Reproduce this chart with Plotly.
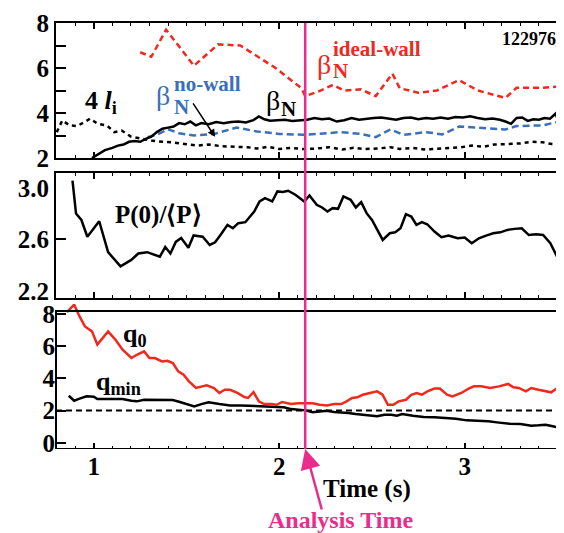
import plotly.graph_objects as go

# ---------------- data ----------------
# top panel: beta_N (solid black)
betaN_t = [0.99, 1.03, 1.06, 1.10, 1.13, 1.16, 1.19, 1.22, 1.25, 1.28, 1.31, 1.34, 1.37, 1.40, 1.43,
           1.46, 1.49, 1.52, 1.55, 1.58, 1.62, 1.66, 1.70, 1.74, 1.78, 1.82, 1.86, 1.89, 1.92, 1.95,
           1.99, 2.03, 2.07, 2.11, 2.15, 2.19, 2.23, 2.27, 2.31, 2.35, 2.39, 2.43, 2.47, 2.51, 2.55,
           2.59, 2.63, 2.67, 2.71, 2.75, 2.79, 2.83, 2.87, 2.91, 2.95, 2.99, 3.03, 3.07, 3.11, 3.15,
           3.19, 3.22, 3.25, 3.28, 3.31, 3.34, 3.37, 3.40, 3.43, 3.46, 3.49, 3.51, 3.53, 3.55, 3.57]
betaN_v = [2.0, 2.2, 2.35, 2.45, 2.55, 2.6, 2.72, 2.75, 2.72, 2.85, 2.95, 3.15, 3.3, 3.35, 3.4,
           3.55, 3.5, 3.62, 3.45, 3.55, 3.5, 3.6, 3.55, 3.6, 3.62, 3.58, 3.68, 3.85, 3.72, 3.66,
           3.68, 3.7, 3.65, 3.68, 3.7, 3.78, 3.72, 3.75, 3.62, 3.68, 3.78, 3.7, 3.75, 3.78, 3.8,
           3.75, 3.7, 3.78, 3.8, 3.72, 3.78, 3.75, 3.8, 3.75, 3.82, 3.8, 3.85, 3.78, 3.72, 3.75,
           3.7, 3.62, 3.52, 3.78, 3.8, 3.65, 3.72, 3.7, 3.78, 3.75, 3.97, 3.55, 3.35, 3.28, 3.3]

# beta_N no-wall limit (blue dashed)
nowall_t = [1.29, 1.35, 1.40, 1.46, 1.54, 1.65, 1.77, 1.88, 2.0, 2.13, 2.21, 2.33, 2.44, 2.52,
            2.60, 2.67, 2.79, 2.88, 2.97, 3.10, 3.22, 3.28, 3.42, 3.50]
nowall_v = [2.93, 3.07, 3.28, 3.1, 3.0, 3.07, 3.35, 3.18, 3.07, 3.03, 3.07, 3.15, 3.07, 2.93,
            3.27, 3.03, 3.15, 3.05, 3.40, 3.34, 3.27, 3.42, 3.45, 3.6]

# beta_N ideal-wall limit (red dashed)
ideal_t = [1.25, 1.31, 1.39, 1.54, 1.67, 1.79, 1.98, 2.12, 2.14, 2.21, 2.29, 2.35, 2.44, 2.52,
           2.61, 2.65, 2.75, 2.85, 2.97, 3.07, 3.22, 3.28, 3.42, 3.52]
ideal_v = [6.7, 6.5, 7.7, 6.1, 7.05, 7.0, 6.0, 5.1, 4.75, 4.95, 5.25, 5.0, 5.05, 4.75,
           5.75, 5.1, 4.9, 5.0, 5.46, 5.0, 4.67, 5.12, 5.12, 5.19]

# 4 l_i (black dotted)
li_t = [0.80, 0.83, 0.87, 0.91, 0.95, 0.98, 1.02, 1.07, 1.11, 1.15, 1.20, 1.26, 1.31, 1.37, 1.42,
        1.49, 1.56, 1.62, 1.69, 1.76, 1.83, 1.88, 1.94, 2.0, 2.06, 2.13, 2.2, 2.27, 2.34, 2.4,
        2.46, 2.53, 2.6, 2.65, 2.72, 2.78, 2.85, 2.92, 2.98, 3.04, 3.1, 3.16, 3.23, 3.3, 3.36,
        3.42, 3.47, 3.5, 3.55]
li_v = [3.15, 3.67, 3.45, 3.42, 3.6, 3.75, 3.52, 3.45, 3.15, 3.22, 2.95, 2.85, 2.78, 2.72, 2.7,
        2.62, 2.55, 2.6, 2.52, 2.5, 2.48, 2.42, 2.5, 2.4, 2.45, 2.4, 2.42, 2.48, 2.38, 2.45,
        2.4, 2.42, 2.48, 2.4, 2.45, 2.38, 2.4, 2.45, 2.48, 2.55, 2.5, 2.6, 2.62, 2.65, 2.72,
        2.7, 2.62, 2.6, 2.68]

# middle panel: P(0)/<P>
peak_t = [0.885, 0.904, 0.933, 0.965, 1.029, 1.077, 1.144, 1.202, 1.24, 1.288, 1.356, 1.385,
          1.413, 1.442, 1.471, 1.51, 1.538, 1.587, 1.625, 1.654, 1.683, 1.721, 1.75, 1.779,
          1.817, 1.865, 1.894, 1.923, 1.962, 1.99, 2.019, 2.048, 2.087, 2.135, 2.163, 2.202,
          2.231, 2.26, 2.288, 2.317, 2.346, 2.385, 2.413, 2.442, 2.471, 2.5, 2.558, 2.596,
          2.625, 2.654, 2.683, 2.712, 2.74, 2.769, 2.798, 2.837, 2.875, 2.913, 2.962, 3.0,
          3.038, 3.077, 3.115, 3.154, 3.192, 3.231, 3.269, 3.308, 3.346, 3.385, 3.423, 3.462, 3.5]
peak_v = [3.055, 2.80, 2.75, 2.62, 2.74, 2.50, 2.39, 2.44, 2.49, 2.50, 2.465, 2.54,
          2.49, 2.58, 2.61, 2.535, 2.63, 2.62, 2.556, 2.577, 2.633, 2.712, 2.686, 2.725,
          2.733, 2.816, 2.894, 2.92, 2.894, 2.972, 2.967, 2.977, 2.946, 2.894, 2.941, 2.868,
          2.847, 2.816, 2.842, 2.837, 2.933, 2.907, 2.847, 2.889, 2.803, 2.751, 2.595, 2.647,
          2.654, 2.686, 2.795, 2.777, 2.712, 2.733, 2.717, 2.66, 2.616, 2.629, 2.608, 2.613,
          2.569, 2.608, 2.629, 2.647, 2.654, 2.673, 2.681, 2.686, 2.633, 2.639, 2.633, 2.569, 2.46]

# bottom panel: q0 (red) and qmin (black)
q0_t = [0.855, 0.894, 0.923, 0.952, 0.990, 1.019, 1.077, 1.116, 1.155, 1.203, 1.232, 1.271,
        1.300, 1.329, 1.368, 1.397, 1.426, 1.455, 1.484, 1.513, 1.551, 1.580, 1.609, 1.648,
        1.677, 1.706, 1.735, 1.774, 1.812, 1.832, 1.861, 1.890, 1.919, 1.957, 1.986, 2.015,
        2.064, 2.102, 2.141, 2.180, 2.218, 2.257, 2.296, 2.334, 2.363, 2.393, 2.421, 2.450,
        2.489, 2.528, 2.557, 2.586, 2.615, 2.644, 2.683, 2.712, 2.741, 2.769, 2.799, 2.837,
        2.866, 2.905, 2.934, 2.982, 3.021, 3.050, 3.089, 3.137, 3.185, 3.214, 3.234, 3.263,
        3.292, 3.330, 3.359, 3.398, 3.437, 3.466, 3.495, 3.524]
q0_v = [8.11, 8.57, 7.84, 7.22, 6.91, 6.09, 6.91, 6.40, 5.77, 5.26, 5.46, 5.67,
        5.26, 5.26, 5.05, 5.09, 4.95, 4.43, 4.22, 3.81, 3.40, 3.50, 3.56, 3.40,
        3.09, 3.29, 3.29, 3.09, 2.84, 2.78, 3.15, 2.57, 2.40, 2.40, 2.36, 2.53,
        2.40, 2.45, 2.47, 2.45, 2.36, 2.32, 2.40, 2.40, 2.57, 2.78, 2.82, 2.98,
        3.09, 3.19, 2.98, 2.36, 2.36, 2.57, 2.67, 2.98, 3.09, 2.98, 3.19, 3.36,
        3.36, 2.98, 2.88, 3.09, 3.36, 3.50, 3.50, 3.40, 3.50, 3.60, 3.65, 3.44,
        3.40, 3.19, 3.40, 3.29, 3.19, 3.13, 3.36, 3.23]

qmin_t = [0.865, 0.894, 0.923, 0.961, 1.0, 1.019, 1.097, 1.155, 1.203, 1.232, 1.271, 1.348,
          1.426, 1.464, 1.503, 1.542, 1.580, 1.619, 1.677, 1.735, 1.793, 1.851, 1.909, 1.967,
          2.025, 2.064, 2.102, 2.141, 2.180, 2.218, 2.257, 2.296, 2.334, 2.373, 2.412, 2.450,
          2.489, 2.528, 2.567, 2.605, 2.634, 2.663, 2.721, 2.779, 2.837, 2.895, 2.953, 3.011,
          3.069, 3.127, 3.185, 3.243, 3.301, 3.359, 3.398, 3.437, 3.475, 3.514]
qmin_v = [2.92, 2.61, 2.74, 2.88, 2.86, 2.71, 2.71, 2.71, 2.61, 2.57, 2.67, 2.67,
          2.65, 2.53, 2.40, 2.26, 2.40, 2.51, 2.40, 2.32, 2.32, 2.28, 2.26, 2.22,
          2.20, 2.09, 2.05, 2.01, 1.89, 1.95, 1.99, 1.91, 1.89, 1.85, 1.78, 1.74,
          1.70, 1.64, 1.74, 1.74, 1.68, 1.78, 1.68, 1.60, 1.58, 1.54, 1.49, 1.39,
          1.37, 1.33, 1.25, 1.18, 1.16, 1.06, 1.08, 1.12, 1.02, 0.92]

q_ref = 2.0
analysis_time = 2.14
x_ticks = [1, 2, 3]
top_ticks = [2, 4, 6, 8]
mid_ticks = [2.2, 2.6, 3.0]
mid_ticktext = ["2.2", "2.6", "3.0"]
bot_ticks = [0, 2, 4, 6, 8]

# ---------------- styling ----------------
FONT = "Liberation Serif"
RED = "#F0281E"
BLUE = "#3A70B8"
MAG = "#EC2C8C"
W, H = 564, 533
ML, MR, MT, MB = 48, 0, 15, 92
PW, PH = W - ML - MR, H - MT - MB


def P(xpx, ypx):
    return (xpx - ML) / PW, (H - MB - ypx) / PH


fig = go.Figure()
fig.add_trace(go.Scatter(x=ideal_t, y=ideal_v, mode="lines", line=dict(color=RED, width=2.5, dash="6px,4px"),
                         xaxis="x", yaxis="y"))
fig.add_trace(go.Scatter(x=li_t, y=li_v, mode="lines", line=dict(color="black", width=2.5, dash="4px,4px"),
                         xaxis="x", yaxis="y"))
fig.add_trace(go.Scatter(x=nowall_t, y=nowall_v, mode="lines", line=dict(color=BLUE, width=2.5, dash="7px,4px"),
                         xaxis="x", yaxis="y"))
fig.add_trace(go.Scatter(x=betaN_t, y=betaN_v, mode="lines", line=dict(color="black", width=2.5),
                         xaxis="x", yaxis="y"))
fig.add_trace(go.Scatter(x=peak_t, y=peak_v, mode="lines", line=dict(color="black", width=2.5),
                         xaxis="x2", yaxis="y2"))
fig.add_trace(go.Scatter(x=qmin_t, y=qmin_v, mode="lines", line=dict(color="black", width=2.5),
                         xaxis="x3", yaxis="y3"))
fig.add_trace(go.Scatter(x=q0_t, y=q0_v, mode="lines", line=dict(color=RED, width=2.5),
                         xaxis="x3", yaxis="y3"))

xrange = [0.796, 3.568]
tickfont = dict(family=FONT, size=25, color="black", weight="bold")


def xax(anchor, labels, mirror=True):
    d = dict(domain=[0, 1], anchor=anchor, range=xrange, showgrid=False, zeroline=False,
             ticks="inside", tickvals=x_ticks, ticklen=6, tickwidth=1.5,
             tickcolor="black", showticklabels=labels, tickfont=tickfont,
             minor=dict(dtick=0.1, tick0=0, ticks="inside", ticklen=3, tickwidth=1, tickcolor="black"),
             fixedrange=True)
    if mirror:
        d.update(showline=True, linewidth=2, linecolor="black", mirror="allticks")
    else:
        d.update(showline=False, mirror=False)
    return d


dom1 = [P(0, 150)[1], 1.0]
dom2 = [P(0, 290)[1], P(0, 165)[1]]
dom3 = [0.0, P(0, 296)[1]]

fig.update_layout(
    width=W, height=H, margin=dict(l=ML, r=MR, t=MT, b=MB),
    paper_bgcolor="white", plot_bgcolor="white", showlegend=False,
    xaxis=xax("y", False),
    xaxis2=xax("y2", False),
    xaxis3=xax("y3", True, mirror=False),
    yaxis=dict(domain=dom1, range=[2, 8], tickvals=top_ticks, ticks="inside", ticklen=10, tickwidth=1.5,
               tickcolor="black", showline=True, linewidth=2, linecolor="black", mirror="allticks",
               showgrid=False, zeroline=False, tickfont=tickfont, anchor="x",
               minor=dict(dtick=1, tick0=0, ticks="inside", ticklen=10, tickwidth=1.5, tickcolor="black")),
    yaxis2=dict(domain=dom2, range=[2.144, 3.115], tickvals=mid_ticks,
                ticktext=mid_ticktext, ticks="", showline=True, linewidth=2, linecolor="black",
                mirror="allticks", showgrid=False, zeroline=False, tickfont=tickfont, anchor="x2",
                minor=dict(tickvals=[2.6], ticks="inside", ticklen=10, tickwidth=1.5, tickcolor="black")),
    yaxis3=dict(domain=dom3, range=[-0.386, 8.61], tickvals=bot_ticks,
                ticks="inside", ticklen=10, tickwidth=1.5, tickcolor="black", showline=False,
                mirror="allticks", showgrid=False, zeroline=False, tickfont=tickfont, anchor="x3"),
)

shapes = [
    dict(type="rect", xref="paper", x0=0, x1=1, yref="y3", y0=-0.386, y1=8.17,
         line=dict(color="black", width=2), layer="above"),
    dict(type="line", xref="paper", x0=0, x1=1, yref="y3", y0=q_ref, y1=q_ref,
         line=dict(color="black", width=2, dash="6px,4px")),
    dict(type="line", xref="x", x0=analysis_time, x1=analysis_time, yref="paper", y0=0, y1=1,
         line=dict(color=MAG, width=2.5), layer="above"),
]
fig.update_layout(shapes=shapes)

ann = []


def txt(text, xpx, ypx, size, color="black", xanchor="center", bold=True):
    x, y = P(xpx, ypx)
    ann.append(dict(text=text, x=x, y=y, xref="paper", yref="paper", xanchor=xanchor, yanchor="middle",
                    showarrow=False, borderpad=0,
                    font=dict(family=FONT, size=size, color=color, weight="bold" if bold else "normal")))


txt("122976_", 561, 31, 18, xanchor="right")
txt("β", 317.5, 57, 28, RED, bold=False)
txt("ideal-wall", 325, 41, 21, RED, xanchor="left")
txt("N", 325, 63, 21, RED, xanchor="left")
txt("β", 155.5, 87, 28, BLUE, bold=False)
txt("no-wall", 165, 76, 21, BLUE, xanchor="left")
txt("N", 165, 99, 21, BLUE, xanchor="left")
txt("β", 265.5, 93, 28, "black", bold=False)
txt("N", 273, 101, 21, "black", xanchor="left")
txt("4 <i>l</i><sub>i</sub>", 76, 94, 26, xanchor="left")
txt("P(0)/⟨P⟩", 151, 207, 25)
txt("q<sub>0</sub>", 114, 327, 26, xanchor="left")
txt("q<sub>min</sub>", 87, 375, 26, xanchor="left")
txt("Time (s)", 360, 481, 25)
txt("Analysis Time", 334, 512, 24, MAG)

# arrow pointing to the no-wall curve
ann.append(dict(x=1.654, y=2.94, xref="x", yref="y", text="", showarrow=True, ax=-23, ay=-35,
                arrowhead=2, arrowsize=1, arrowwidth=1.5, arrowcolor="black"))
# analysis time arrow
ann.append(dict(x=analysis_time, y=0, xref="x", yref="paper", text="", showarrow=True, ax=17, ay=62,
                arrowhead=2, arrowsize=1.6, arrowwidth=2.5, arrowcolor=MAG))
fig.update_layout(annotations=ann)

fig.write_html("out.html")
